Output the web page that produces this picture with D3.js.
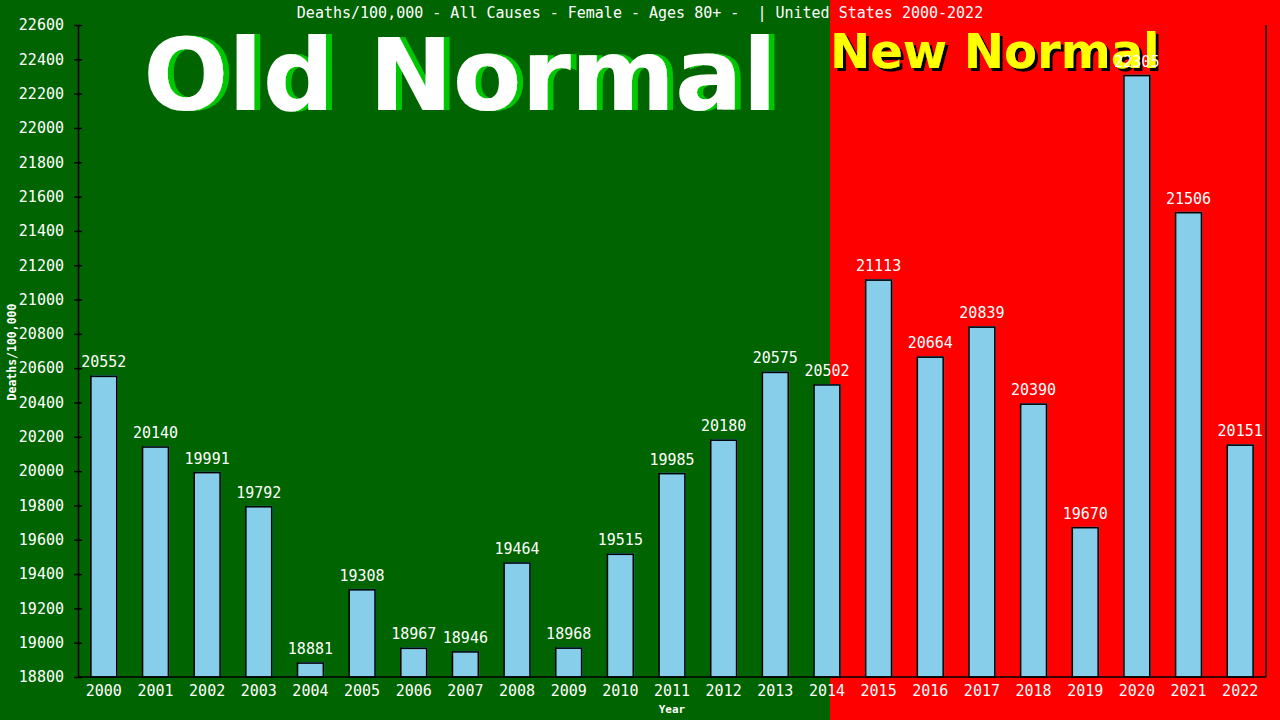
<!DOCTYPE html>
<html>
<head>
<meta charset="utf-8">
<script src="https://cdn.jsdelivr.net/npm/d3@7"></script>
<style>
  html, body { margin: 0; padding: 0; background: #006400; }
  svg { display: block; }
  .mono { font-family: "DejaVu Sans Mono", "Liberation Mono", monospace; }
</style>
</head>
<body>
<svg id="chart" width="1280" height="720"></svg>
<script>
// data
const years = ["2000","2001","2002","2003","2004","2005","2006","2007","2008","2009","2010","2011",
               "2012","2013","2014","2015","2016","2017","2018","2019","2020","2021","2022"];
const deaths = [20552, 20140, 19991, 19792, 18881, 19308, 18967, 18946, 19464, 18968, 19515, 19985,
                20180, 20575, 20502, 21113, 20664, 20839, 20390, 19670, 22305, 21506, 20151];
const yTicks = d3.range(18800, 22601, 200);
const titleText = "Deaths/100,000 - All Causes - Female - Ages 80+ -  | United States 2000-2022";
const splitYear = "2014";   // last "old normal" year

const W = 1280, H = 720;
const plotL = 78, plotR = 1266, plotT = 25, plotB = 677;

let svg = d3.select("#chart");

let x = d3.scaleBand()
    .domain(years)
    .range([plotL, plotR])
    .paddingInner(0.5)
    .paddingOuter(0.25);

let y = d3.scaleLinear()
    .domain([18800, 22600])
    .range([plotB, plotT]);

// drop shadow filters for the big words
function shadowFilter(id, color, dx, dy) {
    let f = svg.append("defs").append("filter").attr("id", id)
        .attr("x", "-5%").attr("y", "-20%").attr("width", "110%").attr("height", "140%");
    f.append("feFlood").attr("flood-color", color).attr("result", "c");
    f.append("feComposite").attr("in", "c").attr("in2", "SourceAlpha").attr("operator", "in").attr("result", "s");
    f.append("feOffset").attr("in", "s").attr("dx", dx).attr("dy", dy).attr("result", "o");
    let m = f.append("feMerge");
    m.append("feMergeNode").attr("in", "o");
    m.append("feMergeNode").attr("in", "SourceGraphic");
}
shadowFilter("greenShadow", "#00c800", 6, 0);
shadowFilter("blackShadow", "#000000", 3, 3);

// background halves
let splitX = x(splitYear) + x.bandwidth() * 0.62;
svg.append("rect").attr("x", 0).attr("y", 0).attr("width", splitX).attr("height", H).attr("fill", "#006400");
svg.append("rect").attr("x", splitX).attr("y", 0).attr("width", W - splitX).attr("height", H).attr("fill", "#ff0000");

// big labels
let oldX = (plotL + splitX) / 2 + 6;
let big = svg.append("g").style("font-family", "'DejaVu Sans', Verdana, sans-serif").style("font-weight", "bold");
big.append("text").attr("x", oldX).attr("y", 110).attr("text-anchor", "middle")
    .attr("font-size", "100px").attr("fill", "#ffffff").attr("filter", "url(#greenShadow)").text("Old Normal");
big.append("text").attr("x", splitX).attr("y", 68)
    .attr("font-size", "48px").attr("fill", "#ffff00").attr("filter", "url(#blackShadow)").text("New Normal");

// title
svg.append("text").attr("class", "mono")
    .attr("x", W / 2).attr("y", 18).attr("text-anchor", "middle")
    .attr("font-size", "15px").attr("fill", "white")
    .style("white-space", "pre")
    .text(titleText);

// bars: steelblue shadow then skyblue with black edge
let bars = svg.append("g");
bars.selectAll("rect.shadow")
    .data(deaths)
    .enter().append("rect")
    .attr("class", "shadow")
    .attr("x", (d, i) => x(years[i]) + 1)
    .attr("y", d => y(d) - 1)
    .attr("width", x.bandwidth())
    .attr("height", d => plotB - y(d) + 1)
    .attr("fill", "#4682b4");

bars.selectAll("rect.bar")
    .data(deaths)
    .enter().append("rect")
    .attr("class", "bar")
    .attr("x", (d, i) => x(years[i]))
    .attr("y", d => y(d))
    .attr("width", x.bandwidth())
    .attr("height", d => plotB - y(d))
    .attr("fill", "#87ceeb")
    .attr("stroke", "#000")
    .attr("stroke-width", 1.5);

// axes
let yAxis = svg.append("g")
    .attr("transform", `translate(${plotL},0)`)
    .call(d3.axisLeft(y).tickValues(yTicks).tickSize(4).tickSizeOuter(0).tickPadding(10).tickFormat(d3.format("d")));
yAxis.selectAll(".tick line").attr("x1", 4).attr("x2", -4).attr("stroke", "#000").attr("stroke-width", 1.5);
yAxis.select(".domain").attr("stroke", "#000").attr("stroke-width", 1.5);
yAxis.selectAll("text").attr("class", "mono").attr("fill", "white").attr("font-size", "15px");

let xAxis = svg.append("g")
    .attr("transform", `translate(0,${plotB})`)
    .call(d3.axisBottom(x).tickSize(0).tickPadding(8));
xAxis.select(".domain").remove();
xAxis.selectAll("text").attr("class", "mono").attr("fill", "white").attr("font-size", "15px");

svg.append("line")
    .attr("x1", plotL).attr("x2", plotR).attr("y1", plotB).attr("y2", plotB)
    .attr("stroke", "#000").attr("stroke-width", 1.5);
svg.append("line")
    .attr("x1", plotR).attr("x2", plotR).attr("y1", plotT).attr("y2", plotB)
    .attr("stroke", "#000").attr("stroke-width", 1.5);

// axis titles
svg.append("text").attr("class", "mono")
    .attr("x", (plotL + plotR) / 2).attr("y", 713).attr("text-anchor", "middle")
    .attr("font-size", "11px").attr("font-weight", "bold").attr("fill", "white")
    .text("Year");
svg.append("text").attr("class", "mono")
    .attr("transform", "translate(16,352) rotate(-90)")
    .attr("text-anchor", "middle")
    .attr("font-size", "11.5px").attr("font-weight", "bold").attr("fill", "white")
    .text("Deaths/100,000");

// value labels
svg.append("g").selectAll("text")
    .data(deaths)
    .enter().append("text")
    .attr("class", "mono")
    .attr("x", (d, i) => x(years[i]) + x.bandwidth() / 2)
    .attr("y", d => y(d) - 9)
    .attr("text-anchor", "middle")
    .attr("font-size", "15px")
    .attr("fill", "white")
    .text(d => d);
</script>
</body>
</html>
